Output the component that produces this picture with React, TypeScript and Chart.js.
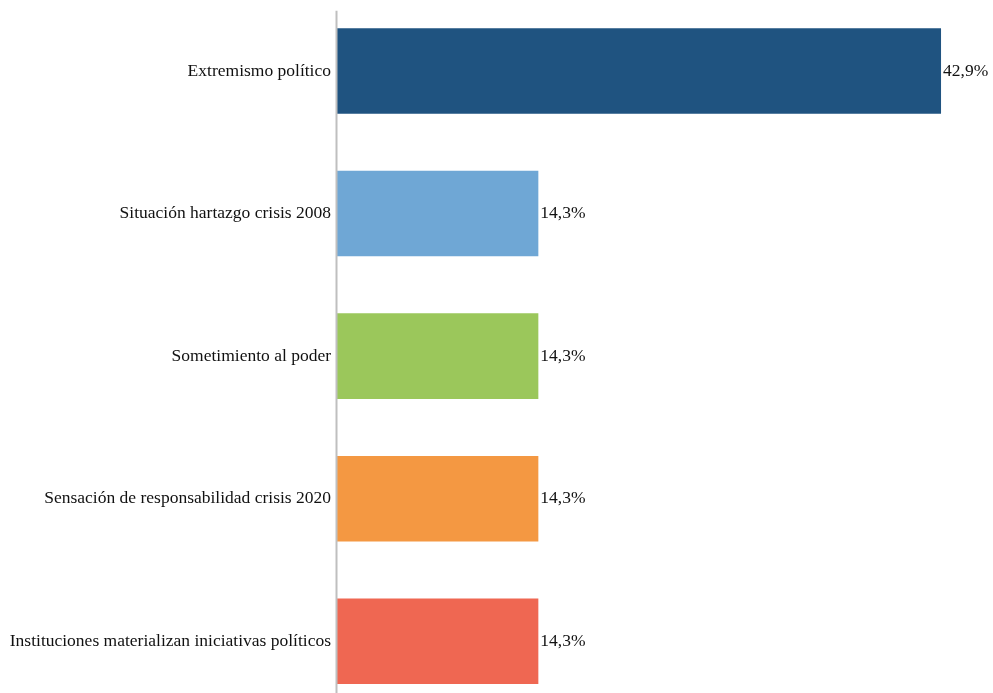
import React, { useEffect, useRef } from "react";
import { Chart, registerables } from "chart.js";

Chart.register(...registerables);

const categories = [
  "Extremismo político",
  "Situación hartazgo crisis 2008",
  "Sometimiento al poder",
  "Sensación de responsabilidad crisis 2020",
  "Instituciones materializan iniciativas políticos",
];
const values = [42.9, 14.3, 14.3, 14.3, 14.3];
const valueLabels = ["42,9%", "14,3%", "14,3%", "14,3%", "14,3%"];
const barColors = ["#1F5380", "#6FA7D5", "#9BC75B", "#F49842", "#EF6752"];

const FONT = "'Liberation Serif', 'Times New Roman', serif";

export default function App() {
  const ref = useRef<HTMLCanvasElement | null>(null);

  useEffect(() => {
    if (!ref.current) return;
    const labelPlugin = {
      id: "valueLabels",
      afterDatasetsDraw(chart: any) {
        const ctx = chart.ctx;
        const meta = chart.getDatasetMeta(0);
        ctx.save();
        ctx.font = `17.5px ${FONT}`;
        ctx.fillStyle = "#111111";
        ctx.textAlign = "left";
        ctx.textBaseline = "middle";
        meta.data.forEach((bar: any, i: number) => {
          ctx.fillText(valueLabels[i], bar.x + 2, bar.y);
        });
        ctx.restore();
      },
    };
    const axisLinePlugin = {
      id: "axisLine",
      afterDraw(chart: any) {
        const ctx = chart.ctx;
        const x = chart.scales.x.getPixelForValue(0);
        ctx.save();
        ctx.strokeStyle = "#BFBFBF";
        ctx.lineWidth = 2;
        ctx.beginPath();
        ctx.moveTo(x - 0.5, chart.chartArea.top + 11);
        ctx.lineTo(x - 0.5, chart.chartArea.bottom);
        ctx.stroke();
        ctx.restore();
      },
    };
    const chart = new Chart(ref.current, {
      type: "bar",
      data: {
        labels: categories,
        datasets: [
          {
            data: values,
            backgroundColor: barColors,
            borderWidth: 0,
            barPercentage: 0.6,
            categoryPercentage: 1,
          },
        ],
      },
      options: {
        indexAxis: "y",
        animation: false,
        responsive: false,
        maintainAspectRatio: false,
        layout: { padding: { top: 18.75, bottom: 8.75, left: 0, right: 22.4 } },
        plugins: {
          legend: { display: false },
          tooltip: { enabled: false },
        },
        scales: {
          x: {
            display: false,
            min: 0,
            max: 45,
          },
          y: {
            grid: { display: false, drawTicks: false },
            border: { display: false },
            ticks: {
              color: "#111111",
              padding: 6,
              font: { family: FONT, size: 17.5 },
            },
            afterFit(scale: any) {
              scale.width = 337;
            },
          },
        },
      },
      plugins: [labelPlugin, axisLinePlugin],
    });
    return () => chart.destroy();
  }, []);

  return (
    <div
      style={{
        position: "fixed",
        left: 0,
        top: 0,
        width: 993,
        height: 693,
        overflow: "hidden",
        background: "#ffffff",
      }}
    >
      <canvas
        ref={ref}
        width={993}
        height={748}
        style={{ position: "absolute", left: 0, top: -19, width: 993, height: 748 }}
      />
    </div>
  );
}
